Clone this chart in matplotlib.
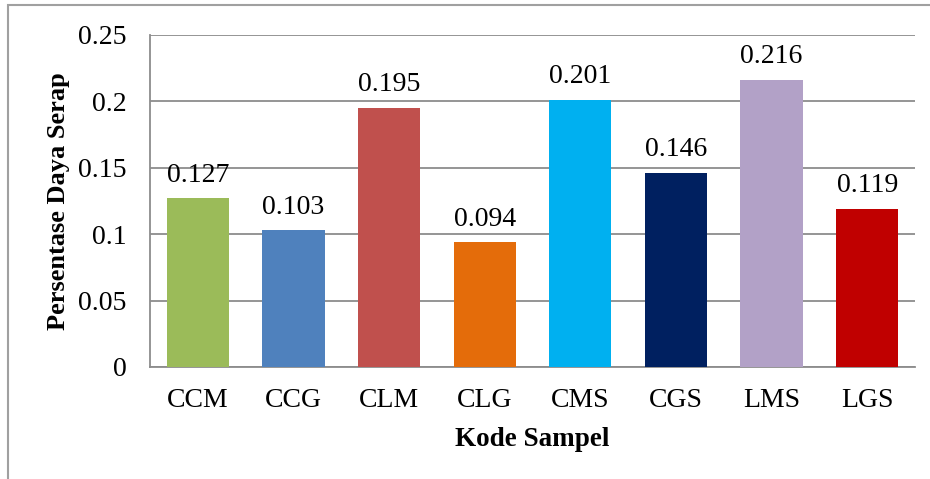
import matplotlib
matplotlib.use("Agg")
import matplotlib.pyplot as plt
from matplotlib.patches import Rectangle

categories = ["CCM", "CCG", "CLM", "CLG", "CMS", "CGS", "LMS", "LGS"]
values = [0.127, 0.103, 0.195, 0.094, 0.201, 0.146, 0.216, 0.119]
colors = ["#9BBB59", "#4F81BD", "#C0504D", "#E46C0A", "#00B0F0", "#002060", "#B2A1C7", "#C00000"]
yticks = [0, 0.05, 0.1, 0.15, 0.2, 0.25]
ytick_labels = ["0", "0.05", "0.1", "0.15", "0.2", "0.25"]

plt.rcParams["font.family"] = ["Liberation Serif", "DejaVu Serif"]

fig = plt.figure(figsize=(9.30, 4.79), dpi=100)
ax = fig.add_axes([150 / 930, 1 - 367 / 479, 765 / 930, 332 / 479])

# outer frame of the chart area
fig.patches.append(Rectangle((8 / 930, -0.1), 1.2, 1 - 5 / 479 + 0.1,
                             transform=fig.transFigure, fill=False,
                             edgecolor="#A0A0A0", linewidth=1.5, zorder=0))

x = range(len(categories))
bars = ax.bar(x, values, width=0.65, color=colors, zorder=3)

for xi, v in zip(x, values):
    ax.annotate(f"{v:.3f}", (xi, v), xytext=(0, 12), textcoords="offset points",
                ha="center", va="baseline", fontsize=20)

ax.set_xlim(-0.5, len(categories) - 0.5)
ax.set_ylim(0, 0.25)
ax.set_yticks(yticks)
ax.set_yticklabels(ytick_labels, fontsize=20)
ax.set_xticks(list(x))
ax.set_xticklabels(categories, fontsize=20)
ax.tick_params(axis="both", length=0)
ax.tick_params(axis="y", pad=17)
ax.tick_params(axis="x", pad=15)

ax.grid(axis="y", color="#8C8C8C", linewidth=1.3, zorder=0)
for side in ["top", "right"]:
    ax.spines[side].set_visible(False)
ax.spines["left"].set_color("#8C8C8C")
ax.spines["left"].set_linewidth(1.3)
ax.spines["bottom"].set_color("#8C8C8C")
ax.spines["bottom"].set_linewidth(1.3)

ax.set_xlabel("Kode Sampel", fontsize=19.5, fontweight="bold", labelpad=10)
ax.set_ylabel("Persentase Daya Serap", fontsize=19, fontweight="bold", labelpad=6)

fig.savefig("out.png", dpi=100)
